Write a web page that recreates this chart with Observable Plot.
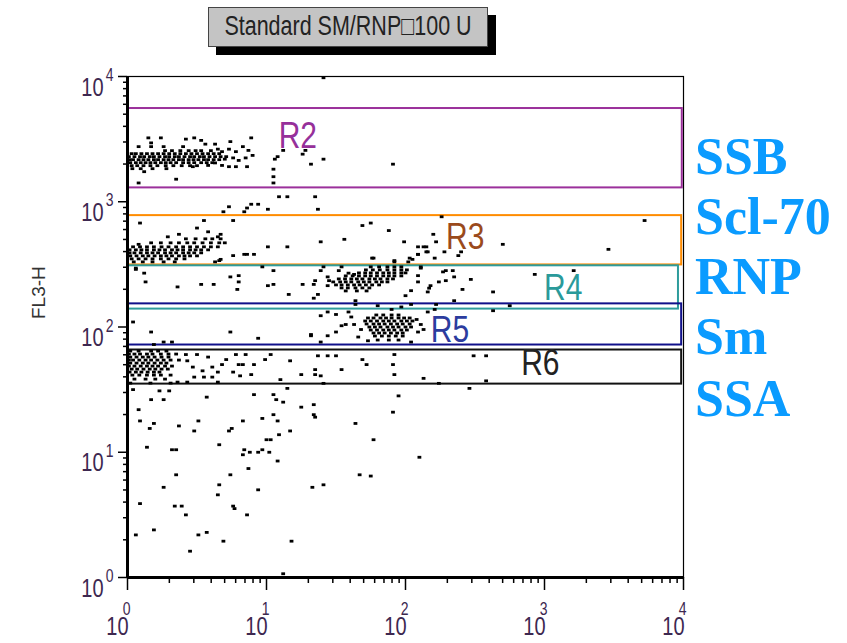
<!DOCTYPE html>
<html><head><meta charset="utf-8">
<script src="https://cdn.jsdelivr.net/npm/d3@7"></script>
<script src="https://cdn.jsdelivr.net/npm/@observablehq/plot@0.6"></script>
<style>
body{margin:0;background:#fff}
#wrap{position:relative;width:847px;height:643px;overflow:hidden;background:#fff}
#wrap svg{position:absolute;left:0;top:0}
.title{position:absolute;left:208px;top:7px;width:280px;height:40px;box-sizing:border-box;background:#c4c4c4;border:1px solid #444;box-shadow:8px 8px 0 #000;font:21.5px "Liberation Sans",Arial,sans-serif;color:#222;text-align:center;line-height:38px;white-space:nowrap}
.title span{display:inline-block;transform:scaleY(1.27);transform-origin:50% 55%}
.ab{position:absolute;left:695px;font:bold 52px "Liberation Serif","Times New Roman",serif;color:#0a9bff;line-height:52px;white-space:nowrap}
</style></head>
<body><div id="wrap"></div>
<script>
// ---- axis ticks (decade exponents) ----
const majorExp = [0, 1, 2, 3, 4];
const minorMult = [2, 3, 4, 5, 6, 7, 8, 9];
const minorTicks = [1, 10, 100, 1000].flatMap(d => minorMult.map(m => m * d));

// ---- gates ----
const gateNames = ["R2", "R3", "R4", "R5", "R6"];
const gateXmin = [1, 1, 1, 1, 1];
const gateXmax = [9800, 9700, 9200, 9700, 9700];
const gateYtop = [5550, 775, 308, 153, 65.5];
const gateYbottom = [1290, 313, 139, 71.8, 35];
const gateLabelX = [16.8, 269, 1365, 209, 933];
const gateLabelY = [3370, 525, 205, 94.6, 51.5];
const gateColors = ["#9b309b", "#ff8c00", "#2e9c9c", "#10108a", "#111111"];
const gateLabelColors = ["#96309a", "#9a4a1c", "#2a9a9a", "#2c3c9e", "#222222"];

// ---- antibody labels ----
const antibodies = ["SSB", "Scl-70", "RNP", "Sm", "SSA"];

// ---- events: dense clusters as rows [log10 FL3-H, [log10 x ...]] ----
const ssbRows = [
  [3.408, [0.27,0.32,0.38,0.44,0.49,0.53,0.60]],
  [3.384, [0.03,0.06,0.10,0.14,0.18,0.22,0.26,0.30,0.34,0.38,0.42,0.46,0.50,0.54,0.58,0.62,0.66]],
  [3.36,  [0.01,0.05,0.09,0.12,0.16,0.19,0.23,0.27,0.30,0.34,0.37,0.41,0.45,0.48,0.52,0.55,0.59,0.63,0.67,0.71]],
  [3.336, [0.015,0.04,0.08,0.115,0.15,0.19,0.22,0.26,0.295,0.33,0.37,0.40,0.44,0.475,0.51,0.55,0.58,0.62,0.66]],
  [3.312, [0.02,0.06,0.095,0.13,0.165,0.2,0.24,0.275,0.31,0.35,0.40,0.44,0.48,0.53,0.57,0.61]],
  [3.288, [0.03,0.07,0.115,0.165,0.215,0.275,0.33,0.39,0.45,0.5]],
  [3.264, [0.035,0.095,0.18,0.28]]
];
const scl70Rows = [
  [2.704, [0.42,0.49,0.56,0.61,0.67]],
  [2.672, [0.17,0.24,0.31,0.37,0.43,0.48,0.54,0.60,0.66,0.70]],
  [2.64,  [0.04,0.09,0.14,0.19,0.245,0.295,0.35,0.40,0.45,0.50,0.55,0.60,0.65]],
  [2.616, [0.015,0.06,0.10,0.14,0.19,0.23,0.27,0.32,0.36,0.40,0.45,0.49,0.53,0.58]],
  [2.592, [0.015,0.05,0.095,0.14,0.18,0.22,0.27,0.31,0.35,0.40,0.44,0.48,0.53]],
  [2.568, [0.02,0.065,0.11,0.15,0.195,0.24,0.28,0.32,0.37,0.41,0.45,0.50]],
  [2.544, [0.03,0.08,0.13,0.18,0.24,0.295,0.35,0.41]],
  [2.52,  [0.045,0.11,0.18,0.26,0.34]]
];
const rnpRows = [
  [2.48,  [1.75,1.81,1.87,1.92,1.97]],
  [2.456, [1.715,1.765,1.815,1.87,1.92,1.97,2.01]],
  [2.432, [1.665,1.71,1.75,1.795,1.84,1.88,1.92,1.97,2.00]],
  [2.408, [1.57,1.62,1.665,1.71,1.75,1.795,1.84,1.88,1.92,1.97]],
  [2.384, [1.52,1.565,1.61,1.65,1.69,1.74,1.78,1.82,1.87,1.91]],
  [2.36,  [1.48,1.53,1.57,1.61,1.66,1.70,1.74,1.79,1.83,1.87]],
  [2.336, [1.50,1.54,1.585,1.63,1.67,1.715,1.76,1.81]],
  [2.312, [1.54,1.585,1.64,1.69,1.74]],
  [2.288, [1.57,1.65,1.72]]
];
const smRows = [
  [2.096, [1.79,1.84,1.90,1.95]],
  [2.072, [1.73,1.77,1.82,1.86,1.90,1.95,1.99,2.03]],
  [2.048, [1.71,1.75,1.795,1.84,1.88,1.92,1.97,2.01,2.05]],
  [2.024, [1.72,1.77,1.81,1.85,1.895,1.94,1.98,2.03]],
  [2.0,   [1.74,1.78,1.82,1.87,1.91,1.95,2.00,2.04]],
  [1.976, [1.75,1.795,1.84,1.88,1.92,1.97,2.01]],
  [1.952, [1.77,1.81,1.85,1.895,1.94,1.98]],
  [1.928, [1.78,1.83,1.88,1.93,1.98]],
  [1.896, [1.80,1.88,1.95]]
];
const ssaRows = [
  [1.808, [0.02,0.08,0.17,0.22,0.28]],
  [1.784, [0.01,0.05,0.09,0.14,0.18,0.24,0.295,0.35]],
  [1.76,  [0.02,0.065,0.11,0.15,0.195,0.245,0.295]],
  [1.736, [0.01,0.04,0.085,0.13,0.17,0.215,0.26,0.31,0.37]],
  [1.712, [0.02,0.065,0.11,0.15,0.195,0.24,0.28]],
  [1.688, [0.01,0.05,0.095,0.14,0.18,0.22,0.27,0.32]],
  [1.664, [0.03,0.07,0.115,0.16,0.2,0.245,0.29]],
  [1.64,  [0.015,0.06,0.10,0.145,0.19,0.23]],
  [1.616, [0.035,0.085,0.14,0.19,0.24,0.31]],
  [1.584, [0.05,0.13,0.2,0.27]],
  [1.552, [0.02,0.165,0.31]]
];

// ---- scattered events [log10 x, log10 FL3-H] ----
const scatterPts = [
  [0.15,3.51],[0.42,3.50],[0.48,3.51],[0.89,3.51],[0.08,3.44],[0.17,3.44],[0.26,3.44],[0.40,3.44],[0.56,3.46],[0.63,3.46],
  [0.74,3.48],[0.83,3.44],[0.73,3.42],[0.65,3.42],[0.68,3.40],[0.78,3.40],[0.87,3.41],[0.90,3.37],[0.85,3.35],[0.80,3.33],
  [0.76,3.35],[0.70,3.34],[0.68,3.29],[0.73,3.28],[0.78,3.28],[0.86,3.28],[0.63,3.31],[0.58,3.29],[0.08,3.15],[0.35,3.18],
  [0.12,3.24],[0.47,3.28],[1.08,3.36],[1.05,3.26],[1.05,3.20],[1.05,3.15],[1.12,3.41],[1.26,3.38],[1.28,3.41],[1.32,3.30],
  [1.41,3.34],[1.91,3.30],[1.41,3.99],[1.06,3.34],[0.17,3.47],[0.53,3.49],[0.24,3.51],
  [1.09,3.04],[1.15,3.04],[1.35,3.04],[1.37,2.94],[0.94,2.98],[0.89,2.98],[0.86,2.95],[0.84,2.92],[0.73,2.96],[0.69,2.92],
  [0.76,2.85],[1.01,2.94],
  [0.08,2.66],[0.09,2.83],[0.29,2.72],[0.37,2.74],[0.50,2.79],[0.58,2.76],[0.67,2.74],[0.65,2.72],[0.06,2.47],[0.12,2.43],
  [0.63,2.52],[0.67,2.54],[0.76,2.57],[0.84,2.58],[0.86,2.58],[0.91,2.58],[0.80,2.41],[0.55,2.85],[1.15,2.64],[1.01,2.64],[0.66,2.53],
  [1.69,2.81],[1.75,2.83],[1.88,2.77],[1.39,2.68],[1.56,2.70],[2.20,2.74],[2.26,2.88],[2.22,2.68],[2.28,2.60],[1.99,2.68],
  [2.15,2.64],[2.15,2.60],[2.09,2.58],[2.05,2.54],[2.02,2.52],[1.76,2.55],[1.92,2.53],[2.21,2.55],[2.38,2.57],[2.40,2.60],
  [2.11,2.47],[2.70,2.66],[3.46,2.62],[3.72,2.85],[2.09,2.64],[2.13,2.64],
  [0.06,2.46],[0.13,2.36],[0.36,2.32],[0.53,2.34],[0.62,2.34],[0.74,2.40],[0.80,2.36],[0.79,2.30],[1.05,2.45],[0.97,2.48],
  [1.01,2.33],[1.05,2.34],[1.26,2.34],[1.34,2.34],[1.44,2.40],[1.39,2.45],[1.52,2.45],[1.37,2.26],[1.16,2.26],
  [1.41,2.48],[1.54,2.48],[1.59,2.43],[1.63,2.42],[1.45,2.37],[1.44,2.33],[2.09,2.41],[2.11,2.48],[2.09,2.36],[2.18,2.33],
  [2.24,2.36],[2.29,2.37],[2.35,2.40],[2.29,2.45],[1.77,2.55],[1.92,2.52],[2.03,2.55],[2.09,2.58],[2.16,2.60],[2.04,2.29],
  [2.00,2.25],[1.64,2.21],[2.16,2.28],[1.35,2.37],[1.34,2.23],[2.17,2.31],[2.41,2.30],[2.47,2.38],[2.63,2.28],[2.35,2.21],
  [2.93,2.42],[3.21,2.45],[2.27,2.44],[2.34,2.45],[2.22,2.18],[2.04,2.18],[1.80,2.17],[2.75,2.17],[1.64,2.18],
  [1.61,2.08],[1.63,2.02],[1.54,2.01],[1.68,1.98],[1.44,2.12],[1.59,2.12],[1.50,1.96],[1.66,1.92],[1.73,1.89],[2.08,2.06],
  [2.11,2.02],[2.13,1.98],[2.09,1.96],[2.04,1.88],[2.16,2.12],[2.21,2.14],[1.97,2.16],[1.90,2.14],[1.39,2.09],[1.50,2.10],
  [1.32,1.93],[1.44,1.93],[1.57,2.02],[1.39,1.88],[2.63,2.13],[0.04,2.04],[0.17,1.96],[0.74,1.96],[0.94,1.91],[1.32,1.94],
  [0.19,1.86],[0.26,1.88],[0.32,1.88],
  [0.42,1.78],[0.50,1.78],[0.58,1.76],[0.68,1.70],[0.78,1.78],[0.85,1.78],[0.43,1.73],[0.47,1.68],[0.54,1.65],[0.61,1.68],
  [0.65,1.64],[0.71,1.74],[0.76,1.64],[0.80,1.70],[0.83,1.70],[0.91,1.70],[0.99,1.74],[0.81,1.61],[0.89,1.62],[0.48,1.60],
  [0.55,1.60],[0.61,1.60],[0.65,1.56],[0.43,1.56],[0.36,1.56],
  [1.37,1.77],[1.44,1.77],[1.50,1.77],[1.69,1.74],[1.92,1.78],[2.49,1.77],[2.58,1.77],[1.72,1.70],[1.91,1.70],[1.35,1.66],
  [1.54,1.66],[1.35,1.62],[1.39,1.61],[1.41,1.55],[2.13,1.59],[2.24,1.55],[2.46,1.51],[2.58,1.57],[1.95,1.45],[1.92,1.62],
  [1.03,1.78],[1.17,1.73],[1.25,1.62],[1.10,1.58],
  [0.04,1.50],[0.17,1.42],[0.26,1.42],[0.23,1.49],[0.30,1.49],[0.57,1.44],[0.91,1.46],[1.05,1.46],[1.07,1.42],[1.12,1.40],
  [1.15,1.51],[1.25,1.36],[1.34,1.38],[1.34,1.30],[1.35,1.28],[1.64,1.23],[1.91,1.32],[0.08,1.34],[0.09,1.25],[0.19,1.23],
  [0.16,1.19],[0.37,1.21],[0.51,1.25],[0.48,1.17],[0.73,1.17],[0.75,1.19],[0.83,1.25],[0.97,1.27],[1.05,1.30],[1.08,1.25],
  [1.09,1.14],[1.17,1.17],[0.14,1.04],[0.32,1.02],[0.35,1.02],[0.66,1.06],[0.84,1.02],[0.83,0.98],[0.88,1.00],[0.94,1.00],
  [0.97,1.02],[1.02,1.00],[1.00,1.10],[1.03,1.10],[1.08,0.93],[0.87,0.87],[1.77,1.10],[0.35,0.82],[0.74,0.82],[0.26,0.72],
  [0.66,0.74],[0.65,0.66],[0.94,0.70],[1.33,0.72],[1.41,0.74],[1.67,0.82],[1.75,0.81],[2.10,0.96],[0.09,0.59],[0.34,0.57],
  [0.39,0.57],[0.42,0.50],[0.76,0.57],[0.77,0.55],[0.86,0.50],[0.19,0.38],[0.06,0.34],[0.51,0.34],[0.57,0.36],[0.69,0.29],
  [1.18,0.29],[0.45,0.21],[1.12,0.03]
];

// ---- build tables ----
const gates = gateNames.map((name, i) => ({
  name, x1: gateXmin[i], x2: gateXmax[i], y1: gateYbottom[i], y2: gateYtop[i],
  lx: gateLabelX[i], ly: gateLabelY[i], color: gateColors[i], labelColor: gateLabelColors[i]
}));
const fromRows = rows => rows.flatMap(([ly, xs]) => xs.map(lx => ({x: 10 ** lx, y: 10 ** ly})));
const events = [
  ...fromRows(ssbRows), ...fromRows(scl70Rows), ...fromRows(rnpRows),
  ...fromRows(smRows), ...fromRows(ssaRows),
  ...scatterPts.map(([lx, ly]) => ({x: 10 ** lx, y: 10 ** ly}))
];

const sans = '"Liberation Sans",Arial,sans-serif';
const eventSymbol = {draw(ctx) { ctx.rect(-1.9, -1.4, 3.8, 2.8); }};
const tickInk = "#3d2850";

const chart = Plot.plot({
  width: 847, height: 643,
  marginLeft: 127, marginRight: 164, marginTop: 76, marginBottom: 66,
  x: {type: "log", domain: [1, 1e4]},
  y: {type: "log", domain: [1, 1e4]},
  color: {type: "identity"},
  style: {background: "transparent", overflow: "visible", fontFamily: sans},
  marks: [
    Plot.frame({stroke: "#000", strokeWidth: 1.2}),
    Plot.rect(gates, {x1: "x1", x2: "x2", y1: "y1", y2: "y2", stroke: "color", fill: "none", strokeWidth: 2}),
    Plot.dot(events, {x: "x", y: "y", symbol: eventSymbol, r: 1, fill: "#000", stroke: "none"}),
    Plot.text(gates, {x: "lx", y: "ly", text: "name", fill: "labelColor", fontSize: 30, fontFamily: sans}),
    Plot.ruleX([1], {stroke: "#000", strokeWidth: 3}),
    Plot.ruleY([1], {stroke: "#000", strokeWidth: 3}),
    Plot.axisY({ticks: minorTicks, tickSize: 4, tickFormat: () => "", label: null, strokeWidth: 1.5}),
    Plot.axisY({ticks: majorExp.map(e => 10 ** e), tickSize: 9, tickFormat: () => "", label: null, strokeWidth: 1.5}),
    Plot.axisX({ticks: minorTicks, tickSize: 6, tickFormat: () => "", label: null, strokeWidth: 1.5}),
    Plot.axisX({ticks: majorExp.map(e => 10 ** e), tickSize: 13, tickFormat: () => "", label: null, strokeWidth: 1.5}),
    // y tick labels 10^n
    Plot.text(majorExp, {y: d => 10 ** d, frameAnchor: "left", text: () => "10", textAnchor: "end", dx: -24, dy: 11, fontSize: 20, fill: tickInk, fontFamily: sans}),
    Plot.text(majorExp, {y: d => 10 ** d, frameAnchor: "left", text: d => String(d), textAnchor: "end", dx: -14, dy: -1, fontSize: 14, fill: tickInk, fontFamily: sans}),
    // x tick labels 10^n
    Plot.text(majorExp, {x: d => 10 ** d, frameAnchor: "bottom", text: () => "10", textAnchor: "end", dx: 1, dy: 57, fontSize: 20, fill: tickInk, fontFamily: sans}),
    Plot.text(majorExp, {x: d => 10 ** d, frameAnchor: "bottom", text: d => String(d), textAnchor: "end", dx: 3, dy: 37, fontSize: 14, fill: tickInk, fontFamily: sans}),
    // y axis title
    Plot.text(["FL3-H"], {frameAnchor: "left", text: d => d, rotate: -90, dx: -89, dy: -8, fontSize: 19, fill: "#333", fontFamily: sans})
  ]
});

// stretch glyphs vertically, like the tall, narrow lettering of the original
const num = v => { const n = parseFloat(v); return (v && !/[a-z%]/i.test(v) && isFinite(n)) ? n : 0; };
chart.querySelectorAll("text").forEach(t => {
  const tr = t.getAttribute("transform") || "";
  if (tr.includes("rotate") || !t.textContent) return;
  const x = num(t.getAttribute("x")), y = num(t.getAttribute("y"));
  t.setAttribute("transform", `${tr} translate(${x} ${y}) scale(1 1.25) translate(${-x} ${-y})`.trim());
});

const wrap = document.getElementById("wrap");
wrap.appendChild(chart);

const title = document.createElement("div");
title.className = "title";
const span = document.createElement("span");
span.textContent = "Standard SM/RNP\u25A1100 U";
title.appendChild(span);
wrap.appendChild(title);

const abTops = [131, 191, 251, 311, 373];
antibodies.forEach((name, i) => {
  const d = document.createElement("div");
  d.className = "ab";
  d.style.top = abTops[i] + "px";
  d.textContent = name;
  wrap.appendChild(d);
});
</script>
</body></html>
